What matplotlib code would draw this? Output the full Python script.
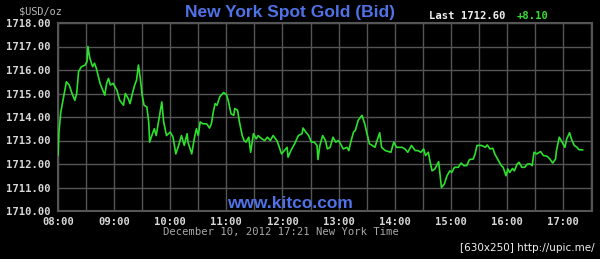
import matplotlib
matplotlib.use("Agg")
import matplotlib.pyplot as plt
from matplotlib.ticker import MultipleLocator, FixedLocator

# minutes after 08:00 and bid price
minutes = [0, 1, 3, 6, 9, 12, 15, 18, 20, 22, 25, 29, 31, 32, 34, 37, 39, 41, 45, 50,
           52, 54, 56, 59, 63, 66, 70, 72, 75, 77, 80, 82, 84, 86, 88, 90, 92, 95, 97, 98,
           101, 103, 105, 108, 111, 113, 116, 120, 123, 126, 129, 132, 135, 138, 139, 143,
           146, 148, 150, 152, 155, 159, 162, 164, 166, 168, 170, 173, 177, 180, 182, 185,
           188, 189, 192, 194, 197, 199, 201, 204, 206, 209, 212, 214, 218, 221, 224, 227,
           230, 234, 236, 239, 242, 245, 246, 249, 253, 257, 261, 262, 265, 268, 271, 274,
           277, 278, 280, 283, 286, 288, 291, 294, 297, 300, 303, 305, 309, 311, 313, 316,
           318, 321, 325, 328, 330, 333, 336, 339, 340, 344, 346, 350, 356, 359, 362, 368,
           371, 374, 378, 382, 385, 388, 391, 393, 396, 398, 400, 403, 407, 409, 410, 413,
           416, 419, 421, 424, 428, 431, 434, 437, 440, 444, 446, 448, 451, 453, 457, 459,
           462, 465, 467, 471, 474, 476, 479, 481, 483, 486, 488, 491, 493, 496, 499, 502,
           505, 507, 509, 512, 516, 519, 523, 526, 529, 532, 533, 536, 539, 540, 542, 544,
           547, 549, 552, 555, 557, 561]
prices = [1712.36, 1713.35, 1714.21, 1714.85, 1715.50, 1715.36, 1715.00, 1714.71, 1715.00, 1715.93,
          1716.14, 1716.21, 1716.36, 1717.00, 1716.50, 1716.14, 1716.29, 1716.07, 1715.43, 1714.93,
          1715.43, 1715.64, 1715.36, 1715.43, 1715.14, 1714.71, 1714.50, 1715.00, 1714.79, 1714.57,
          1715.07, 1715.36, 1715.57, 1716.21, 1715.64, 1714.93, 1714.50, 1714.43, 1713.79, 1712.93,
          1713.29, 1713.50, 1713.21, 1713.93, 1714.64, 1713.79, 1713.21, 1713.36, 1713.14, 1712.43,
          1712.79, 1713.21, 1712.79, 1713.29, 1712.93, 1712.43,
          1713.14, 1713.50, 1713.21, 1713.79, 1713.71, 1713.71, 1713.53, 1713.71, 1714.21, 1714.57,
          1714.50, 1714.86, 1715.04, 1714.96, 1714.71, 1714.14,
          1714.07, 1714.36, 1714.29, 1713.79, 1713.21, 1713.00, 1712.93, 1713.14, 1712.50, 1713.29,
          1713.07, 1713.21, 1713.07, 1713.00, 1713.14, 1713.00,
          1713.21, 1713.00, 1712.79, 1712.43, 1712.57, 1712.71, 1712.29, 1712.57, 1712.86, 1713.21,
          1713.29, 1713.53, 1713.36, 1713.21, 1712.93, 1712.93,
          1712.79, 1712.19, 1712.79, 1713.21, 1713.00, 1712.64, 1712.71, 1713.14, 1712.93, 1713.00,
          1712.79, 1712.64, 1712.71, 1712.57, 1712.93, 1713.36,
          1713.43, 1713.86, 1714.07, 1713.71, 1713.36, 1712.86, 1712.79, 1712.71, 1712.86, 1713.33,
          1712.71, 1712.57, 1712.50, 1712.93, 1712.71, 1712.71,
          1712.64, 1712.50, 1712.79, 1712.57, 1712.57, 1712.50, 1712.64, 1712.36, 1712.50, 1712.07,
          1711.71, 1711.79, 1712.10, 1711.36, 1711.00, 1711.14,
          1711.50, 1711.71, 1711.64, 1711.86, 1711.86, 1712.04, 1711.93, 1711.93, 1712.19, 1712.21,
          1712.43, 1712.79, 1712.79, 1712.79, 1712.71, 1712.81,
          1712.64, 1712.67, 1712.43, 1712.14, 1711.93, 1711.86, 1711.50, 1711.79, 1711.64, 1711.81,
          1711.71, 1712.00, 1712.07, 1711.86, 1711.86, 1712.00,
          1712.00, 1711.93, 1712.50, 1712.43, 1712.53, 1712.36, 1712.33, 1712.21, 1712.04, 1712.21,
          1712.57, 1713.14, 1712.93, 1712.86, 1712.71, 1713.07,
          1713.33, 1713.07, 1712.79, 1712.71, 1712.61, 1712.60]

hour_labels = ["08:00", "09:00", "10:00", "11:00", "12:00", "13:00", "14:00", "15:00", "16:00", "17:00"]
y_ticks = [1710, 1711, 1712, 1713, 1714, 1715, 1716, 1717, 1718]

title = "New York Spot Gold (Bid)"
last_price = "1712.60"
change = "+8.10"
footer = "December 10, 2012 17:21 New York Time"

W, H = 600, 259
fig = plt.figure(figsize=(W / 100, H / 100), dpi=100, facecolor="black")
ax = fig.add_axes([58 / W, (H - 211) / H, (592 - 58) / W, (211 - 23) / H], facecolor="black")

grid_c = "#555555"
ax.plot(minutes, prices, color="#2ce02c", lw=1.2, zorder=3)

ax.set_xlim(0, 571)
ax.set_ylim(1710, 1718)
ax.xaxis.set_major_locator(FixedLocator([60 * i for i in range(len(hour_labels))]))
ax.set_xticklabels(hour_labels)
ax.xaxis.set_minor_locator(MultipleLocator(30))
ax.set_yticks(y_ticks)
ax.set_yticklabels([f"{v:.2f}" for v in y_ticks])
ax.grid(which="both", color=grid_c, lw=1.0)
ax.set_axisbelow(True)
for s in ax.spines.values():
    s.set_color(grid_c)
    s.set_linewidth(1.5)

mono = "DejaVu Sans Mono"
ax.tick_params(axis="both", which="both", length=0, colors="#d8d8d8")
ax.tick_params(axis="y", pad=5)
ax.tick_params(axis="x", pad=4)
for lab in ax.get_xticklabels() + ax.get_yticklabels():
    lab.set_fontfamily(mono)
    lab.set_fontweight("bold")
    lab.set_fontsize(7.6)

def px(x, y):
    return x / W, 1 - y / H

fig.text(*px(19, 11), "$USD/oz", color="#b8b8b8", fontsize=7.4, family=mono,
         ha="left", va="center")
fig.text(*px(290, 12), title, color="#4f72e6", fontsize=12.5, family="Liberation Sans",
         fontweight="bold", ha="center", va="center")
fig.text(*px(429, 16), "Last " + last_price, color="#f0f0f0", fontsize=7.6, family=mono,
         fontweight="bold", ha="left", va="center")
fig.text(*px(517, 16), change, color="#33dd33", fontsize=7.6, family=mono,
         fontweight="bold", ha="left", va="center")
fig.text(*px(290, 203), "www.kitco.com", color="#4f72e6", fontsize=12.5, family="Liberation Sans",
         fontweight="bold", ha="center", va="center")
fig.text(*px(281, 232), footer, color="#a8a8a8", fontsize=7.6, family=mono,
         ha="center", va="center")
fig.text(*px(595, 248), "[630x250] http://upic.me/", color="#f0f0f0", fontsize=7.5,
         family="DejaVu Sans", ha="right", va="center")

fig.savefig("out.png", dpi=100, facecolor="black")
